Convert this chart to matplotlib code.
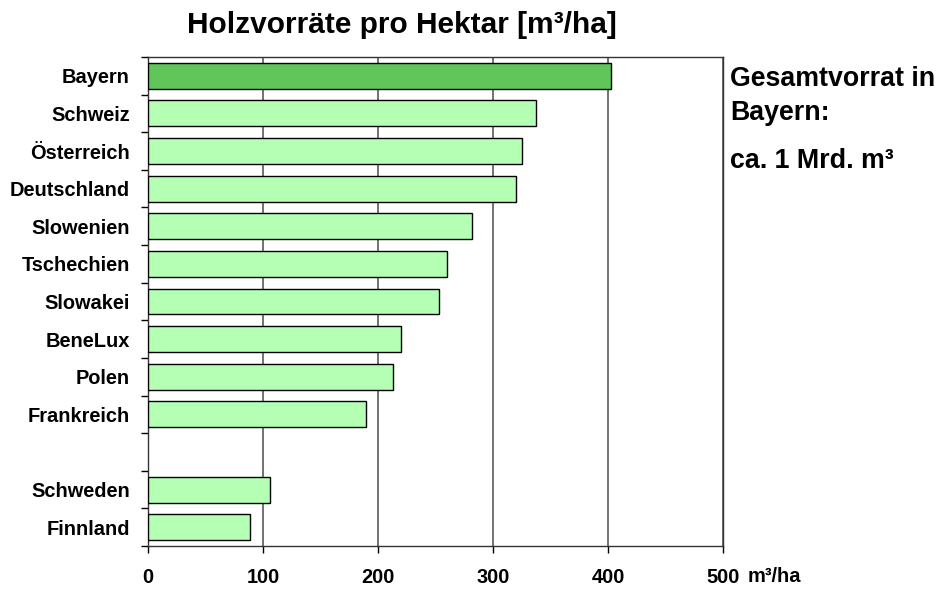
import matplotlib

matplotlib.use("Agg")

import matplotlib.pyplot as plt
import numpy as np

plt.rcParams["font.family"] = ["Liberation Sans", "DejaVu Sans"]

# data (m³/ha); "" is the empty gap row
LAENDER = ["Bayern", "Schweiz", "Österreich", "Deutschland", "Slowenien",
           "Tschechien", "Slowakei", "BeneLux", "Polen", "Frankreich", "",
           "Schweden", "Finnland"]
VORRAT = [403, 337, 325, 320, 282, 260, 253, 220, 213, 190, np.nan, 106, 89]
XTICKS = [0, 100, 200, 300, 400, 500]

HIGHLIGHT = "#60C65A"
LIGHT = "#B4FFB4"

fig = plt.figure(figsize=(9.37, 5.90), dpi=100)
ax = fig.add_axes([148 / 937, 1 - 546 / 590, 575 / 937, 489 / 590])

y = np.arange(len(LAENDER))
colors = [HIGHLIGHT if i == 0 else LIGHT for i in range(len(LAENDER))]
vorrat = np.array(VORRAT, dtype=float)
mask = ~np.isnan(vorrat)
ax.barh(y[mask], vorrat[mask], height=0.69, color=np.array(colors)[mask],
        edgecolor="black", linewidth=1.0, zorder=3)

ax.set_xlim(0, 500)
ax.set_ylim(len(LAENDER) - 0.5, -0.5)
ax.set_xticks(XTICKS)
ax.set_xticklabels([str(t) for t in XTICKS], fontsize=14.4, fontweight="bold")
ax.set_yticks(y)
ax.set_yticklabels(LAENDER, fontsize=14.4, fontweight="bold")
ax.tick_params(axis="y", length=0, pad=13)
ax.set_yticks(np.arange(-0.5, len(LAENDER), 1), minor=True)
ax.tick_params(axis="y", which="minor", length=5, width=1)
ax.tick_params(axis="x", length=5, width=1, pad=11)
ax.grid(axis="x", color="#5a5a5a", linewidth=1.2, zorder=0)
for s in ax.spines.values():
    s.set_linewidth(1.0)
    s.set_color("#333333")

ax.text(748 / 937, 1 - 576 / 590, "m³/ha", transform=fig.transFigure,
        fontsize=14.4, fontweight="bold", ha="left", va="center")

fig.text(402 / 937, 1 - 25 / 590, "Holzvorräte pro Hektar [m³/ha]",
         fontsize=21.5, fontweight="bold", ha="center", va="center")
fig.text(730 / 937, 1 - 96 / 590, "Gesamtvorrat in\nBayern:", fontsize=19.3,
         fontweight="bold", ha="left", va="center", linespacing=1.4)
fig.text(730 / 937, 1 - 161 / 590, "ca. 1 Mrd. m³", fontsize=19.3,
         fontweight="bold", ha="left", va="center")

fig.savefig("out.png", dpi=100)
